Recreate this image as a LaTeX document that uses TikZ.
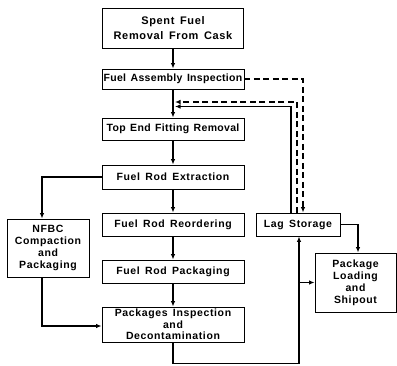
\documentclass[tikz,border=0pt]{standalone}
\usepackage{fontspec}
\setmainfont{Liberation Sans}[LetterSpace=6,WordSpace=1.5]
\newfontfamily\tightfont{Liberation Sans}[LetterSpace=3,WordSpace=1.4]
\usetikzlibrary{arrows.meta}
\begin{document}
\begin{tikzpicture}[x=1pt,y=-1pt,
  box/.style={draw,line width=0.9pt,align=center,inner sep=1pt,
    font=\bfseries\fontsize{10.5}{12}\selectfont},
  arr/.style={line width=1.2pt,-{Latex[length=5.5pt,width=4.5pt]}},
  dsh/.style={arr,dash pattern=on 6pt off 3.5pt}]
\useasboundingbox (0,0) rectangle (397,366);
\node[box,minimum width=141pt,minimum height=40pt,font=\bfseries\fontsize{11}{14.5}\selectfont] (sf) at (173,28) {Spent Fuel\\Removal From Cask};
\node[box,minimum width=142pt,minimum height=20pt,font=\tightfont\bfseries\fontsize{10.5}{12}\selectfont] (fai) at (173,79) {Fuel Assembly Inspection};
\node[box,minimum width=142pt,minimum height=22pt,font=\tightfont\bfseries\fontsize{10.5}{12}\selectfont] (tef) at (173,129) {Top End Fitting Removal};
\node[box,minimum width=142pt,minimum height=24pt] (fre) at (173,177) {Fuel Rod Extraction};
\node[box,minimum width=142pt,minimum height=23pt] (frr) at (173,224.5) {Fuel Rod Reordering};
\node[box,minimum width=142pt,minimum height=23pt] (frp) at (173,271.5) {Fuel Rod Packaging};
\node[box,minimum width=142pt,minimum height=35pt,font=\bfseries\fontsize{10.5}{11.5}\selectfont] (pid) at (173,324.5) {Packages Inspection\\and\\Decontamination};
\node[box,minimum width=84pt,minimum height=23pt] (lag) at (298,224.5) {Lag Storage};
\node[box,minimum width=81pt,minimum height=59pt] (plo) at (355.5,282.5) {Package\\Loading\\and\\Shipout};
\node[box,minimum width=82pt,minimum height=58pt] (nfbc) at (48,248) {NFBC\\Compaction\\and\\Packaging};
\coordinate (r1) at (175,102);
\coordinate (r2) at (175,106.5);
\draw[arr] (sf) -- (fai);
\draw[arr] (fai) -- (tef);
\draw[arr] (tef) -- (fre);
\draw[arr] (fre) -- (frr);
\draw[arr] (frr) -- (frp);
\draw[arr] (frp) -- (pid);
\draw[dsh] (fai.east) -| ([xshift=5pt]lag.north);
\draw[dsh] ([xshift=-1pt]lag.north) |- (r1);
\draw[arr] ([xshift=-7pt]lag.north) |- (r2);
\draw[arr] (fre.west) -| ([xshift=-6pt]nfbc.north);
\draw[arr] ([xshift=-6pt]nfbc.south) |- ([yshift=-1.5pt]pid.west);
\draw[arr] (pid.south) -- ++(0,21) -| ([xshift=1pt]lag.south);
\coordinate (br) at ([xshift=1pt]lag.south |- plo.west);
\draw[arr] (br) -- (plo.west);
\draw[arr] (lag.east) -| ([xshift=2.5pt]plo.north);
\end{tikzpicture}
\end{document}
